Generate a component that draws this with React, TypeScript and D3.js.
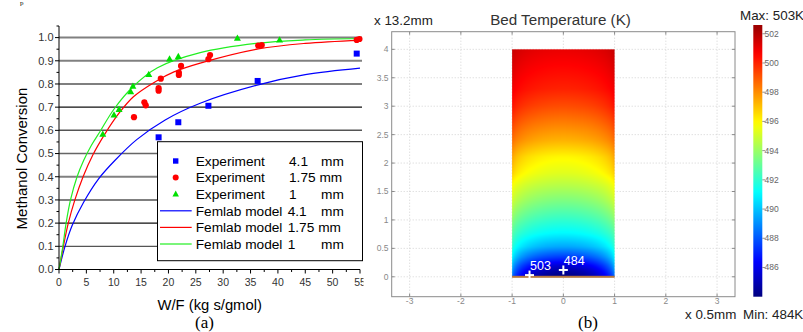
import React, { useMemo } from 'react';
import * as d3 from 'd3';

// ---------- Chart (a) data ----------
const xTicksA = [0, 5, 10, 15, 20, 25, 30, 35, 40, 45, 50, 55];
const yTicksA = [0, 0.1, 0.2, 0.3, 0.4, 0.5, 0.6, 0.7, 0.8, 0.9, 1.0];

const exp41: [number, number][] = [
  [18.2, 0.57], [21.8, 0.635], [27.3, 0.706], [36.3, 0.813], [54.4, 0.931],
];
const exp175: [number, number][] = [
  [13.7, 0.657], [15.6, 0.721], [15.85, 0.708], [18.2, 0.782], [18.2, 0.771],
  [18.6, 0.823], [21.9, 0.849], [21.9, 0.839], [22.3, 0.878], [27.3, 0.907],
  [27.6, 0.925], [36.4, 0.966], [37.05, 0.968], [54.4, 0.99], [54.9, 0.994],
];
const exp1: [number, number][] = [
  [8.0, 0.583], [10.05, 0.666], [10.97, 0.69], [13.1, 0.766], [13.5, 0.79],
  [16.4, 0.84], [20.2, 0.907], [21.8, 0.918], [32.6, 0.997], [40.3, 0.989],
];
const model41: [number, number][] = [
  [0, 0], [1.1, 0.1], [2.4, 0.19], [4.5, 0.29], [7.2, 0.39], [10.2, 0.47],
  [14.2, 0.56], [19.4, 0.645], [25.8, 0.717], [36.4, 0.796], [45, 0.84], [55, 0.868],
];
const model175: [number, number][] = [
  [0, 0], [0.8, 0.1], [1.7, 0.2], [2.9, 0.3], [4.4, 0.4], [6.2, 0.495], [8.4, 0.585],
  [11, 0.675], [13.6, 0.745], [17.6, 0.81], [21, 0.852], [25.8, 0.89], [36.4, 0.951],
  [45, 0.975], [55, 0.988],
];
const model1: [number, number][] = [
  [0, 0], [0.7, 0.1], [1.3, 0.2], [2.1, 0.3], [3.3, 0.4], [4.5, 0.47], [5.9, 0.535],
  [7.5, 0.595], [10, 0.69], [13.6, 0.79], [18, 0.87], [25.8, 0.935], [36, 0.975],
  [45, 0.99], [55, 0.996],
];

// ---------- Chart (b) data ----------
const xTicksB = [-3, -2, -1, 0, 1, 2, 3];
const yTicksB = [0, 0.5, 1, 1.5, 2, 2.5, 3, 3.5, 4];
const cbTicks = [486, 488, 490, 492, 494, 496, 498, 500, 502];
const tempRange = [484, 503];
const jetFractions = [0, 0.125, 0.375, 0.625, 0.875, 1];
const jetColors = ['#00007f', '#0000ff', '#00ffff', '#ffff00', '#ff0000', '#7f0000'];
// temperature field read along the bed centre line and along the wall
const fieldRowsY = [0, 0.1, 0.2, 0.35, 0.53, 0.76, 1.06, 1.35, 1.6, 1.82, 2.11, 2.4, 3.0, 3.3, 4.0];
const centerT = [484, 484.6, 485.6, 487.5, 489.5, 491, 492.3, 493.5, 494.5, 495.3, 496, 497.3, 499.2, 500, 501];
const edgeT = [489, 489.8, 490.5, 491.5, 492.3, 493, 494.2, 495.3, 496, 497, 497.8, 498.8, 500.5, 501, 501.8];
const markers = [
  { x: -0.66, y: 0.03, label: '503' },
  { x: 0, y: 0.12, label: '484' },
];

const SANS = "'Liberation Sans', Arial, Helvetica, sans-serif";
const SERIF = "'Liberation Serif', 'Times New Roman', serif";

const gridStyle: Record<string, { c: string; w: number }> = {
  '0.1': { c: '#555', w: 1.3 },
  '0.2': { c: '#111', w: 1.2 },
  '0.3': { c: '#555', w: 1.5 },
  '0.4': { c: '#808080', w: 2 },
  '0.5': { c: '#666', w: 1.5 },
  '0.6': { c: '#555', w: 1.5 },
  '0.7': { c: '#111', w: 1.2 },
  '0.8': { c: '#555', w: 1.5 },
  '0.9': { c: '#808080', w: 2 },
  '1.0': { c: '#808080', w: 2 },
};

function triPath(cx: number, cy: number, s: number) {
  const h = s * 0.9;
  return `M${cx},${cy - h * 0.62}L${cx + s / 2},${cy + h * 0.38}L${cx - s / 2},${cy + h * 0.38}Z`;
}

export default function App() {
  // ---- scales (a)
  const xA = d3.scaleLinear().domain([0, 55]).range([59, 360]);
  const yA = d3.scaleLinear().domain([0, 1.05]).range([269.5, 26]);
  const line = d3
    .line<[number, number]>()
    .x((d) => xA(d[0]))
    .y((d) => yA(d[1]))
    .curve(d3.curveCatmullRom.alpha(0.5));

  // ---- scales (b)
  const xB = d3.scaleLinear().domain([-3.35, 3.35]).range([391.7, 735]);
  const yB = d3.scaleLinear().domain([-0.35, 4.31]).range([296.7, 31.7]);
  const cB = d3.scaleLinear().domain([484, 502.6]).range([296.7, 25]);
  const tInterp = d3.interpolateNumber(tempRange[0], tempRange[1]);
  const jet = d3
    .scaleLinear<string>()
    .domain(jetFractions.map((f) => tInterp(f)))
    .range(jetColors)
    .interpolate(d3.interpolateRgb)
    .clamp(true);
  const centerScale = d3.scaleLinear().domain(fieldRowsY).range(centerT).clamp(true);
  const edgeScale = d3.scaleLinear().domain(fieldRowsY).range(edgeT).clamp(true);

  const hx0 = xB(-1), hx1 = xB(1), hy0 = yB(4), hy1 = yB(0);
  const heatW = Math.round(hx1 - hx0);
  const heatH = Math.round(hy1 - hy0);

  const heatUrl = useMemo(() => {
    if (typeof document === 'undefined') return '';
    const cv = document.createElement('canvas');
    cv.width = heatW;
    cv.height = heatH;
    const ctx = cv.getContext('2d');
    if (!ctx) return '';
    const img = ctx.createImageData(heatW, heatH);
    for (let j = 0; j < heatH; j++) {
      const yd = yB.invert(hy0 + ((j + 0.5) * (hy1 - hy0)) / heatH);
      const c = centerScale(yd);
      const e = edgeScale(yd);
      for (let i = 0; i < heatW; i++) {
        const xd = xB.invert(hx0 + ((i + 0.5) * (hx1 - hx0)) / heatW);
        const w = 1 - Math.sqrt(Math.max(0, 1 - xd * xd));
        const T = c * (1 - w) + e * w;
        const col = d3.rgb(jet(T));
        const k = (j * heatW + i) * 4;
        img.data[k] = col.r;
        img.data[k + 1] = col.g;
        img.data[k + 2] = col.b;
        img.data[k + 3] = 255;
      }
    }
    ctx.putImageData(img, 0, 0);
    return cv.toDataURL();
  }, []);

  const cbStops = d3.range(484, 502.61, 0.4).map((t) => ({
    off: (t - 484) / (502.6 - 484),
    c: jet(t),
  }));

  const legendRows = [
    { kind: 'sq', color: '#0000ff', name: 'Experiment', size: '4.1', mm: true },
    { kind: 'ci', color: '#ff0000', name: 'Experiment', size: '1.75 mm', mm: false },
    { kind: 'tr', color: '#00e000', name: 'Experiment', size: '1', mm: true },
    { kind: 'ln', color: '#0000ff', name: 'Femlab model', size: '4.1', mm: true },
    { kind: 'ln', color: '#ff0000', name: 'Femlab model', size: '1.75 mm', mm: false },
    { kind: 'ln', color: '#22ee22', name: 'Femlab model', size: '1', mm: true },
  ];
  const legY0 = 161;
  const legDY = 16.6;

  return (
    <svg
      width={803}
      height={332}
      viewBox="0 0 803 332"
      style={{ position: 'absolute', left: 0, top: 0, background: '#fff' }}
      fontFamily={SANS}
    >
      <defs>
        <clipPath id="clipA">
          <rect x={0} y={0} width={363.5} height={332} />
        </clipPath>
        <linearGradient id="cbGrad" x1="0" y1="1" x2="0" y2="0">
          {cbStops.map((s, i) => (
            <stop key={i} offset={s.off} stopColor={s.c} />
          ))}
        </linearGradient>
      </defs>

      {/* stray text from page above */}
      <text x={20} y={5} fontFamily={SERIF} fontSize={7} fill="#000">p</text>

      {/* ================= Chart (a) ================= */}
      <g clipPath="url(#clipA)">
        {yTicksA.filter((v) => v > 0).map((v) => {
          const st = gridStyle[v.toFixed(1)];
          return (
            <line key={v} x1={xA(0)} x2={362} y1={yA(v)} y2={yA(v)} stroke={st.c} strokeWidth={st.w} />
          );
        })}

        {/* model curves */}
        <path d={line(model41) || ''} fill="none" stroke="#0000ff" strokeWidth={1.2} />
        <path d={line(model175) || ''} fill="none" stroke="#ff0000" strokeWidth={1.2} />
        <path d={line(model1) || ''} fill="none" stroke="#22ee22" strokeWidth={1.2} />

        {/* experimental points */}
        {exp41.map((d, i) => (
          <rect key={'b' + i} x={xA(d[0]) - 3} y={yA(d[1]) - 3} width={6} height={6} fill="#0000ff" />
        ))}
        {exp175.map((d, i) => (
          <circle key={'r' + i} cx={xA(d[0])} cy={yA(d[1])} r={3.1} fill="#ff0000" />
        ))}
        {exp1.map((d, i) => (
          <path key={'g' + i} d={triPath(xA(d[0]), yA(d[1]), 7)} fill="#00e000" />
        ))}

        {/* axes */}
        <line x1={xA(0)} x2={xA(0)} y1={yA(0)} y2={26} stroke="#000" strokeWidth={1} />
        <line x1={xA(0)} x2={xA(55)} y1={yA(0)} y2={yA(0)} stroke="#000" strokeWidth={1} />
        {d3.range(0, 1.051, 0.05).map((v, i) => (
          <line key={'yt' + i} x1={xA(0) - (i % 2 === 0 ? 4 : 2.5)} x2={xA(0)} y1={yA(v)} y2={yA(v)} stroke="#000" strokeWidth={1} />
        ))}
        {d3.range(0, 55.01, 2.5).map((v, i) => (
          <line key={'xt' + i} x1={xA(v)} x2={xA(v)} y1={yA(0)} y2={yA(0) + (i % 2 === 0 ? 4 : 2.5)} stroke="#000" strokeWidth={1} />
        ))}
        {yTicksA.map((v) => (
          <text key={'yl' + v} x={53.5} y={yA(v) + 3.8} textAnchor="end" fontSize={11} fill="#333">
            {v.toFixed(1)}
          </text>
        ))}
        {xTicksA.map((v) => (
          <text key={'xl' + v} x={xA(v)} y={286} textAnchor="middle" fontSize={10.5} fill="#333">
            {v}
          </text>
        ))}

        {/* legend */}
        <rect x={157.5} y={141.7} width={205} height={119} fill="#fff" stroke="#000" strokeWidth={1} />
        {legendRows.map((r, i) => {
          const cy = legY0 + i * legDY;
          const sx = r.kind === 'ln' ? 287.7 : 289;
          return (
            <g key={'lg' + i}>
              {r.kind === 'sq' && <rect x={173} y={cy - 2.7} width={5.4} height={5.4} fill={r.color} />}
              {r.kind === 'ci' && <circle cx={175.7} cy={cy} r={3} fill={r.color} />}
              {r.kind === 'tr' && <path d={triPath(175.7, cy, 6.5)} fill={r.color} />}
              {r.kind === 'ln' && <line x1={160} x2={191.7} y1={cy} y2={cy} stroke={r.color} strokeWidth={1.2} />}
              <text x={195.7} y={cy + 4.8} fontSize={13.7} fill="#000">{r.name}</text>
              <text x={sx} y={cy + 4.8} fontSize={13.7} fill="#000">{r.size}</text>
              {r.mm && <text x={321} y={cy + 4.8} fontSize={13.7} fill="#000">mm</text>}
            </g>
          );
        })}
      </g>

      <text transform="translate(27,158.5) rotate(-90)" textAnchor="middle" fontSize={15} fill="#000">
        Methanol Conversion
      </text>
      <text x={209.7} y={310} textAnchor="middle" fontSize={14.8} fill="#000">W/F (kg s/gmol)</text>
      <text x={204.5} y={327.5} textAnchor="middle" fontFamily={SERIF} fontSize={17} fill="#000">(a)</text>

      {/* ================= Chart (b) ================= */}
      {/* dotted grid */}
      {xTicksB.map((v) => (
        <line key={'gx' + v} x1={xB(v)} x2={xB(v)} y1={yB(4.31)} y2={yB(-0.35)} stroke="#c8c8c8" strokeWidth={0.8} strokeDasharray="1 2" />
      ))}
      {yTicksB.map((v) => (
        <line key={'gy' + v} x1={xB(-3.35)} x2={xB(3.35)} y1={yB(v)} y2={yB(v)} stroke="#c8c8c8" strokeWidth={0.8} strokeDasharray="1 2" />
      ))}

      {/* temperature field */}
      {heatUrl && (
        <image href={heatUrl} x={hx0} y={hy0} width={hx1 - hx0} height={hy1 - hy0} preserveAspectRatio="none" />
      )}
      <rect x={hx0} y={yB(0) - 1} width={hx1 - hx0} height={2} fill="#b5763f" />

      {markers.map((m) => (
        <g key={m.label}>
          <line x1={xB(m.x) - 4.5} x2={xB(m.x) + 4.5} y1={yB(m.y)} y2={yB(m.y)} stroke="#fff" strokeWidth={2} />
          <line x1={xB(m.x)} x2={xB(m.x)} y1={yB(m.y) - 4.5} y2={yB(m.y) + 4.5} stroke="#fff" strokeWidth={2} />
          <text x={xB(m.x) + 0.5} y={yB(m.y) - 5} fontSize={12.5} fill="#fff">{m.label}</text>
        </g>
      ))}

      {/* frame */}
      <rect x={xB(-3.35)} y={yB(4.31)} width={xB(3.35) - xB(-3.35)} height={yB(-0.35) - yB(4.31)} fill="none" stroke="#8a8a8a" strokeWidth={1} />
      {xTicksB.map((v) => (
        <g key={'tx' + v}>
          <line x1={xB(v)} x2={xB(v)} y1={yB(-0.35)} y2={yB(-0.35) - 3} stroke="#8a8a8a" />
          <line x1={xB(v)} x2={xB(v)} y1={yB(4.31)} y2={yB(4.31) + 3} stroke="#8a8a8a" />
          <text x={xB(v)} y={303.5} textAnchor="middle" fontSize={8.5} fill="#888">{v}</text>
        </g>
      ))}
      {yTicksB.map((v) => (
        <g key={'ty' + v}>
          <line x1={xB(-3.35)} x2={xB(-3.35) + 3} y1={yB(v)} y2={yB(v)} stroke="#8a8a8a" />
          <line x1={xB(3.35)} x2={xB(3.35) - 3} y1={yB(v)} y2={yB(v)} stroke="#8a8a8a" />
          <text x={388.5} y={yB(v) + 3} textAnchor="end" fontSize={8.5} fill="#888">{v}</text>
        </g>
      ))}

      <text x={374} y={24.5} fontSize={13.4} fill="#222">x 13.2mm</text>
      <text x={560.5} y={25} textAnchor="middle" fontSize={15.2} fill="#333">Bed Temperature (K)</text>
      <text x={685} y={319} fontSize={13.4} fill="#222">x 0.5mm</text>
      <text x={588} y={327.5} textAnchor="middle" fontFamily={SERIF} fontSize={17} fill="#000">(b)</text>

      {/* colour bar */}
      <rect x={753.3} y={cB(502.6)} width={9} height={cB(484) - cB(502.6)} fill="url(#cbGrad)" />
      {cbTicks.map((t) => (
        <g key={'cb' + t}>
          <line x1={762.3} x2={765} y1={cB(t)} y2={cB(t)} stroke="#777" strokeWidth={0.8} />
          <text x={764.5} y={cB(t) + 3} fontSize={8.5} fill="#666">{t}</text>
        </g>
      ))}
      <text x={740} y={19.5} fontSize={13.4} fill="#222">Max: 503K</text>
      <text x={743} y={319} fontSize={13.4} fill="#222">Min: 484K</text>
    </svg>
  );
}
